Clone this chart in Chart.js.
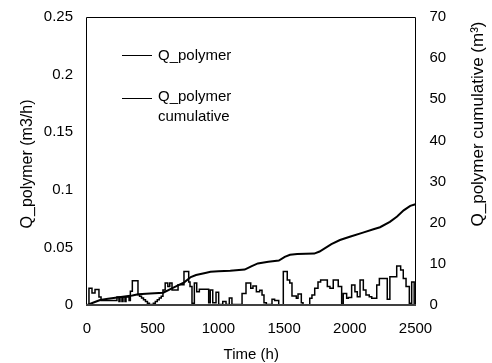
<!DOCTYPE html>
<html>
<head>
<meta charset="utf-8">
<script src="https://cdn.jsdelivr.net/npm/chart.js@4.4.1/dist/chart.umd.min.js"></script>
<style>
  html, body { margin: 0; padding: 0; background: #ffffff; }
  #wrap { width: 492px; height: 363px; }
</style>
</head>
<body>
<div id="wrap"><canvas id="c" width="492" height="363"></canvas></div>
<script>
// ---- data ----
const qTime = [0, 15, 38, 61, 91, 107, 228, 243, 251, 266, 274, 289, 297, 320, 330, 345, 388, 400, 415, 430, 445, 460, 475, 505, 520, 535, 550, 565, 578, 595, 615, 630, 647, 693, 738, 774, 784, 799, 817, 835, 855, 926, 938, 957, 982, 1002, 1033, 1058, 1083, 1103, 1180, 1210, 1246, 1263, 1289, 1314, 1332, 1347, 1365, 1408, 1428, 1459, 1494, 1524, 1543, 1560, 1593, 1606, 1631, 1644, 1695, 1712, 1733, 1758, 1778, 1829, 1849, 1874, 1912, 1938, 1950, 1976, 1989, 2014, 2039, 2057, 2078, 2103, 2123, 2148, 2167, 2205, 2225, 2285, 2305, 2357, 2387, 2407, 2428, 2453, 2471, 2490, 2500];
const qValue = [0, 0.0145, 0.0105, 0.0135, 0.007, 0.004, 0.007, 0.003, 0.007, 0.003, 0.007, 0.003, 0.007, 0.004, 0.012, 0.021, 0.009, 0.0075, 0.006, 0.0045, 0.003, 0.0015, 0.0005, 0.0015, 0.003, 0.0045, 0.006, 0.0075, 0.013, 0.019, 0.016, 0.019, 0.013, 0.0175, 0.029, 0.020, 0.016, 0.0015, 0.019, 0.0116, 0.0136, 0.002, 0.013, 0.002, 0.011, 0.0005, 0.003, 0.0005, 0.006, 0.0005, 0.010, 0.019, 0.0145, 0.0165, 0.0116, 0.0127, 0.0087, 0.002, 0.0005, 0.005, 0.004, 0, 0.029, 0.0217, 0.019, 0.0078, 0.0058, 0.0095, 0.002, 0, 0.0058, 0.0087, 0.0145, 0.020, 0.0217, 0.016, 0.0145, 0.0217, 0.016, 0.0005, 0.010, 0.0058, 0.0065, 0.0174, 0.0116, 0.0072, 0.0217, 0.013, 0.0087, 0.0072, 0.0058, 0.0174, 0.023, 0.005, 0.0246, 0.0339, 0.0304, 0.023, 0.016, 0.0015, 0.020, 0, 0];

const cumTime = [0, 50, 100, 160, 230, 300, 345, 390, 480, 580, 650, 700, 740, 790, 830, 900, 940, 1000, 1090, 1200, 1250, 1300, 1380, 1460, 1505, 1545, 1600, 1730, 1770, 1860, 1925, 2000, 2100, 2180, 2230, 2305, 2360, 2410, 2460, 2500];
const cumValue = [0, 0.6, 1.2, 1.5, 1.8, 2.1, 2.3, 2.6, 2.8, 3.0, 4.1, 4.9, 5.5, 6.8, 7.3, 7.8, 8.1, 8.2, 8.3, 8.6, 9.4, 10.1, 10.5, 10.8, 11.7, 12.2, 12.4, 12.5, 13.0, 14.8, 15.8, 16.6, 17.6, 18.4, 18.9, 20.2, 21.5, 23.0, 24.1, 24.5];

const xTickLabels = ["0", "500", "1000", "1500", "2000", "2500"];
const yTickLabels = ["0", "0.05", "0.1", "0.15", "0.2", "0.25"];
const y2TickLabels = ["0", "10", "20", "30", "40", "50", "60", "70"];

const seriesNames = ["Q_polymer", "Q_polymer cumulative"];
const xTitle = "Time (h)";
const yTitle = "Q_polymer (m3/h)";
const y2Title = "Q_polymer cumulative (m\u00B3)";

// ---- chart ----
const FONT = "'Liberation Sans', Arial, sans-serif";

const decor = {
  id: 'decor',
  afterDraw(chart) {
    const ctx = chart.ctx;
    const a = chart.chartArea;
    ctx.save();
    // frame
    ctx.strokeStyle = '#000';
    ctx.lineWidth = 1;
    ctx.beginPath();
    ctx.moveTo(a.left - 0.5, a.bottom);
    ctx.lineTo(a.left - 0.5, a.top + 0.5);
    ctx.lineTo(a.right, a.top + 0.5);
    ctx.lineTo(a.right, a.bottom);
    ctx.stroke();
    ctx.strokeStyle = '#404040';
    ctx.lineWidth = 2;
    ctx.beginPath();
    ctx.moveTo(a.left - 1, a.bottom);
    ctx.lineTo(a.right + 0.5, a.bottom);
    ctx.stroke();

    // titles
    ctx.fillStyle = '#000';
    ctx.textAlign = 'center';
    ctx.textBaseline = 'middle';
    ctx.font = '15px ' + FONT;
    ctx.fillText(xTitle, (a.left + a.right) / 2, 355);
    ctx.save();
    ctx.font = '16px ' + FONT;
    ctx.translate(28, 164);
    ctx.rotate(-Math.PI / 2);
    ctx.fillText(yTitle, 0, 0);
    ctx.restore();
    ctx.save();
    ctx.font = '17px ' + FONT;
    ctx.translate(478, 124);
    ctx.rotate(-Math.PI / 2);
    ctx.fillText(y2Title, 0, 0);
    ctx.restore();

    // legend
    ctx.font = '15px ' + FONT;
    ctx.strokeStyle = '#000';
    ctx.lineWidth = 1;
    ctx.beginPath();
    ctx.moveTo(122, 55.5); ctx.lineTo(152, 55.5);
    ctx.moveTo(122, 98.5); ctx.lineTo(152, 98.5);
    ctx.stroke();
    ctx.textAlign = 'left';
    ctx.fillText(seriesNames[0], 158, 56);
    const parts = seriesNames[1].split(' ');
    ctx.fillText(parts[0], 158, 97);
    ctx.fillText(parts[1], 158, 117);
    ctx.restore();
  }
};

new Chart(document.getElementById('c'), {
  type: 'line',
  data: {
    datasets: [
      {
        label: seriesNames[0],
        data: qTime.map((t, i) => ({ x: t, y: qValue[i] })),
        yAxisID: 'y',
        borderColor: '#000',
        borderWidth: 1.5,
        stepped: true,
        pointRadius: 0,
        fill: false
      },
      {
        label: seriesNames[1],
        data: cumTime.map((t, i) => ({ x: t, y: cumValue[i] })),
        yAxisID: 'y2',
        borderColor: '#000',
        borderWidth: 2,
        tension: 0,
        pointRadius: 0,
        fill: false
      }
    ]
  },
  options: {
    responsive: false,
    animation: false,
    events: [],
    layout: { padding: { top: 17, left: 0, right: 0, bottom: 0 } },
    plugins: { legend: { display: false }, tooltip: { enabled: false } },
    scales: {
      x: {
        type: 'linear', min: 0, max: 2500,
        grid: { display: false, drawTicks: false },
        border: { display: false },
        ticks: {
          stepSize: 500, padding: 15, color: '#000', maxRotation: 0,
          font: { size: 15, family: FONT },
          callback: (v, i) => xTickLabels[i]
        },
        afterFit: s => { s.height = 58; s.paddingLeft = 0; s.paddingRight = 0; }
      },
      y: {
        position: 'left', min: 0, max: 0.25,
        grid: { display: false, drawTicks: false },
        border: { display: false },
        ticks: {
          stepSize: 0.05, padding: 14, color: '#000',
          font: { size: 15, family: FONT },
          callback: (v, i) => yTickLabels[i]
        },
        afterFit: s => { s.width = 87; s.paddingTop = 0; s.paddingBottom = 0; }
      },
      y2: {
        position: 'right', min: 0, max: 70,
        grid: { display: false, drawTicks: false },
        border: { display: false },
        ticks: {
          stepSize: 10, padding: 14, color: '#000',
          font: { size: 15, family: FONT },
          callback: (v, i) => y2TickLabels[i]
        },
        afterFit: s => { s.width = 76.5; s.paddingTop = 0; s.paddingBottom = 0; }
      }
    }
  },
  plugins: [decor]
});
</script>
</body>
</html>
